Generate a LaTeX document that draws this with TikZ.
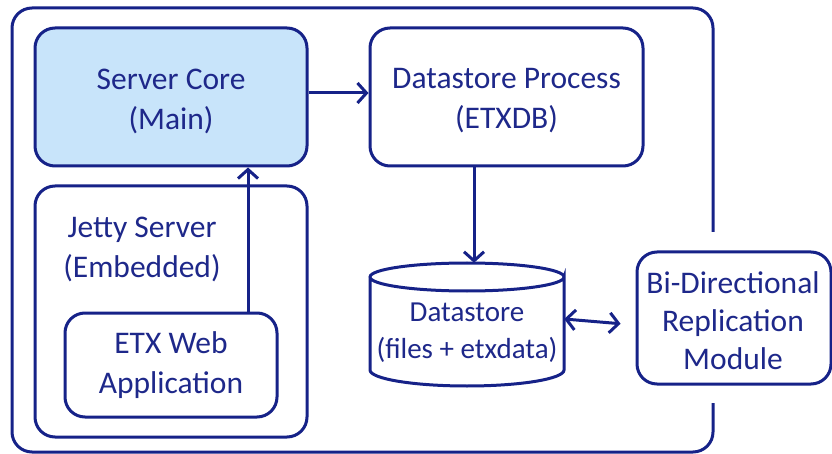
\documentclass[tikz,border=0pt]{standalone}
\usepackage{fontspec}
\setmainfont{Carlito}
\usetikzlibrary{arrows.meta}
\definecolor{navy}{RGB}{22,34,136}
\definecolor{navytext}{RGB}{30,40,138}
\definecolor{corefill}{RGB}{200,228,250}
\tikzset{
  box/.style={draw=navy, line width=3pt, rounded corners=20pt, fill=white,
              inner sep=0pt, align=center, text=navytext,
              font=\fontsize{31.5}{40}\selectfont},
  label/.style={text=navytext, align=center, inner sep=0pt,
                font=\fontsize{31.5}{40}\selectfont},
  tip/.style={Straight Barb[length=9pt,width=20pt,line width=3pt]},
  arr/.style={draw=navy, line width=3pt, -{Straight Barb[length=9pt,width=20pt,line width=3pt]}},
  dblarr/.style={draw=navy, line width=3pt,
              {Straight Barb[length=9pt,width=20pt,line width=3pt]}-{Straight Barb[length=9pt,width=20pt,line width=3pt]}}
}
\begin{document}
\begin{tikzpicture}[x=1pt,y=-1pt]
\useasboundingbox (0,0) rectangle (832,454);

% outer container, open where the replication module sits
\draw[navy, line width=3pt, rounded corners=20pt]
  (713,232) -- (713,8) -- (12,8) -- (12,452) -- (713,452) -- (713,403);

% server side
\node[box, fill=corefill, minimum width=272pt, minimum height=138pt]
  (core) at (171,97) {};
\node[label] (corelbl) at (171,101) {Server Core\\(Main)};
\node[box, minimum width=273pt, minimum height=138pt]
  (dp) at (506.5,97) {};
\node[label] (dplbl) at (506.5,101) {Datastore Process\\(ETXDB)};
\node[box, minimum width=272pt, minimum height=251pt]
  (jetty) at (171,311.5) {};
\node[label] (jettylbl) at (142,249) {Jetty Server\\(Embedded)};
\node[box, minimum width=212pt, minimum height=104pt]
  (etx) at (171,365) {};
\node[label] (etxlbl) at (171,365.5) {ETX Web\\Application};

% datastore cylinder
\draw[navy, line width=3pt, fill=white]
  (370,277) -- (370,370) arc[start angle=180, end angle=0, x radius=97, y radius=16]
  -- (564,277) arc[start angle=0, end angle=360, x radius=97, y radius=14];
\node[inner sep=0pt, minimum width=194pt, minimum height=123pt]
  (ds) at (467,324.5) {};
\node[label, font=\fontsize{29}{37}\selectfont] (dslbl) at (467,333)
  {Datastore\\(files + etxdata)};

% replication module
\node[box, minimum width=194pt, minimum height=132pt]
  (rep) at (734,318) {};
\node[label, font=\fontsize{31.5}{38}\selectfont] (replbl) at (733,321)
  {Bi-Directional\\Replication\\Module};

% connectors
\draw[arr] ([yshift=4pt]core.east) -- ([yshift=4pt]dp.west);
\draw[arr] ([xshift=77pt]etx.north) -- ([xshift=77pt]core.south);
\draw[arr] ([xshift=-32.5pt]dp.south) -- ([xshift=7pt]ds.north);
\draw[dblarr, shorten >=15pt] ([yshift=5.5pt]ds.east) -- ([yshift=-0.5pt]rep.west |- ds.east);
\end{tikzpicture}
\end{document}
